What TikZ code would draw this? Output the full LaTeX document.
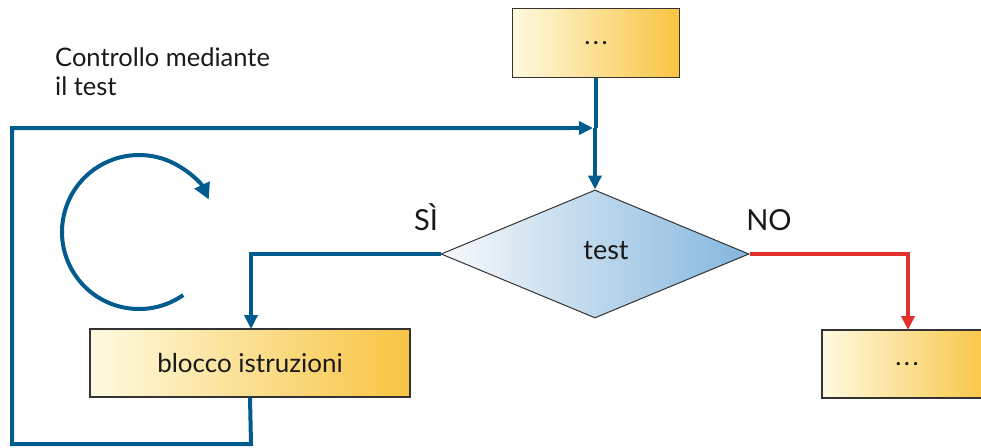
\documentclass[tikz,border=0pt]{standalone}
\usepackage{fontspec}
\setmainfont{Lato}
\usetikzlibrary{arrows.meta,shapes.geometric}
\definecolor{flowblue}{HTML}{005B8E}
\definecolor{flowred}{HTML}{E2302A}
\definecolor{boxlight}{HTML}{FEFAE0}
\definecolor{boxmid}{HTML}{FBE4A0}
\definecolor{boxdark}{HTML}{F8C442}
\definecolor{dialight}{HTML}{F7F9FB}
\definecolor{diamid}{HTML}{C8DCEE}
\definecolor{diadark}{HTML}{84B6DD}
\definecolor{edge}{HTML}{333333}
\newcommand{\spaceddots}{.\hspace{2.5pt}.\hspace{2.5pt}.}
\tikzset{
  procbox/.style={draw=edge, line width=1.3pt, rectangle, inner sep=0pt,
    left color=boxlight, middle color=boxmid, right color=boxdark,
    font=\fontsize{26}{30}\selectfont, text=black!90},
  decision/.style={draw=edge, line width=1pt, diamond, inner sep=0pt,
    minimum width=308pt, minimum height=128pt, aspect=2.4,
    left color=dialight, middle color=diamid, right color=diadark},
  flow/.style={line width=4pt, flowblue, -{Triangle[length=14pt,width=13pt]}},
  noflow/.style={line width=4pt, flowred, -{Triangle[length=14pt,width=13pt]}},
  plain/.style={line width=4pt, flowblue},
  lbl/.style={font=\fontsize{25.5}{30}\selectfont, text=black!90},
  bigl/.style={font=\fontsize{29}{32}\selectfont, text=black!90},
}
\begin{document}
\begin{tikzpicture}[x=1pt, y=-1pt]
  \useasboundingbox (0,0) rectangle (981,447);
  \clip (0,0) rectangle (981,447);

  % boxes and decision
  \node[procbox, minimum width=167pt, minimum height=69pt] (start) at (596,43) {\spaceddots};
  \node[decision] (test) at (595,254) {};
  \node[lbl, font=\fontsize{27}{30}\selectfont] (testtxt) at (606,251) {test};
  \node[procbox, minimum width=320pt, minimum height=68pt] (body) at (250,363) {blocco istruzioni};
  \node[procbox, minimum width=170pt, minimum height=68pt] (after) at (907,364) {\spaceddots};

  % captions
  \node[lbl, anchor=base west, inner sep=0pt] (caption) at (55,66) {Controllo mediante};
  \node[lbl, anchor=base west, inner sep=0pt] (caption2) at (55,95) {il test};
  \node[bigl, anchor=base] (yes) at (426,230) {SÌ};
  \node[bigl, anchor=base] (no) at (769,230) {NO};

  % loop back from the body to the test
  \coordinate (join) at (595,128);
  \draw[plain] (start.south) -- (start.south |- join);
  \draw[flow] (join) -- (test.north);
  \draw[plain] (body.south) -- (251,444) -- (12,444) -- (12,128) -- (570,128);
  \draw[flow] (560,128) -- ([xshift=-2pt]join);

  % branches
  \draw[flow] (test.west) -- (251,254) -- (251,329);
  \draw[noflow] (test.east) -- (908,254) -- (908,330);

  % circular repetition mark
  \coordinate (loopc) at (139,232);
  \draw[line width=4pt, flowblue, -{Triangle[length=16pt,width=16pt]}]
    ([shift={(55:77)}]loopc) arc[start angle=55, end angle=335, radius=77];
\end{tikzpicture}
\end{document}
